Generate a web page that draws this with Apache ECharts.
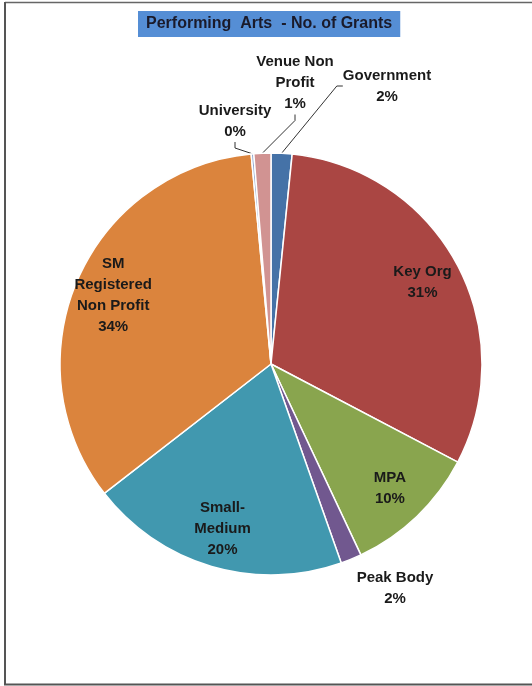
<!DOCTYPE html>
<html>
<head>
<meta charset="utf-8">
<script src="https://cdn.jsdelivr.net/npm/echarts@6/dist/echarts.min.js"></script>
<style>
  html, body { margin: 0; padding: 0; background: #fff; }
  #main { width: 532px; height: 686px; }
</style>
</head>
<body>
<div id="main"></div>
<script>
// data (share of grants, %)
const categories = ['Government', 'Key Org', 'MPA', 'Peak Body', 'Small-Medium',
    'SM Registered Non Profit', 'University', 'Venue Non Profit'];
const labelNames = ['Government', 'Key Org', 'MPA', 'Peak Body', 'Small-\nMedium',
    'SM\nRegistered\nNon Profit', 'University', 'Venue Non\nProfit'];
const shares = [1.6, 31.1, 10.3, 1.6, 19.9, 34.0, 0.2, 1.3];

const colors = ['#4572A7', '#AA4643', '#89A54E', '#71588F', '#4198AF', '#DB843D', '#93A9CF', '#D19392'];

// small slices get their label outside, placed like the excel chart
const outsideLabels = {
    'Government': { x: 387, y: 86, line: true },
    'Venue Non Profit': { x: 295, y: 83, line: true },
    'University': { x: 235, y: 121, line: true },
    'Peak Body': { x: 395, y: 588, line: false }
};

const labelFont = {
    fontFamily: 'Liberation Sans',
    fontWeight: 'bold',
    fontSize: 15,
    lineHeight: 21,
    color: '#1a1a1a',
    textBorderWidth: 0
};

const myChart = echarts.init(document.getElementById('main'));

const pieData = categories.map((c, i) => {
    const out = outsideLabels[c];
    return {
        name: c,
        value: shares[i],
        itemStyle: { color: colors[i] },
        label: { show: !!out },
        labelLine: { show: !!(out && out.line) }
    };
});

const ringData = categories.map((c, i) => ({
    name: c,
    value: shares[i],
    label: { show: !outsideLabels[c] }
}));

const fmt = p => labelNames[p.dataIndex] + '\n' + Math.round(p.percent) + '%';

let option = {
    backgroundColor: '#fff',
    animation: false,
    title: {
        text: 'Performing  Arts  - No. of Grants',
        left: 138,
        top: 11,
        padding: [5, 8, 5, 8],
        backgroundColor: '#558ED5',
        textStyle: {
            fontFamily: 'Liberation Sans',
            fontWeight: 'bold',
            fontSize: 16,
            color: '#1a1a2a'
        }
    },
    graphic: [
        { type: 'line', shape: { x1: 5, y1: 2.5, x2: 532, y2: 2.5 }, style: { stroke: '#666', lineWidth: 1.5 } },
        { type: 'line', shape: { x1: 5, y1: 2, x2: 5, y2: 685 }, style: { stroke: '#555', lineWidth: 2 } },
        { type: 'line', shape: { x1: 4, y1: 684.5, x2: 532, y2: 684.5 }, style: { stroke: '#555', lineWidth: 2 } }
    ],
    series: [{
        type: 'pie',
        center: [271, 364],
        radius: 211,
        startAngle: 90,
        clockwise: true,
        avoidLabelOverlap: false,
        silent: true,
        itemStyle: { borderColor: '#fff', borderWidth: 1.5 },
        label: Object.assign({ position: 'outside', align: 'center', formatter: fmt }, labelFont),
        labelLine: { length: 10, length2: 6, smooth: false, lineStyle: { color: '#333', width: 1 } },
        labelLayout: p => {
            const out = outsideLabels[categories[p.dataIndex]];
            if (!out) return {};
            return { x: out.x, y: out.y, align: 'center', verticalAlign: 'middle' };
        },
        data: pieData
    }, {
        // transparent ring only to put the inner labels further out
        type: 'pie',
        center: [271, 364],
        radius: [127, 211],
        startAngle: 90,
        clockwise: true,
        silent: true,
        itemStyle: { color: 'rgba(0,0,0,0)' },
        label: Object.assign({ position: 'inside', align: 'center', formatter: fmt }, labelFont),
        labelLine: { show: false },
        data: ringData
    }]
};

myChart.setOption(option, true);
</script>
</body>
</html>
